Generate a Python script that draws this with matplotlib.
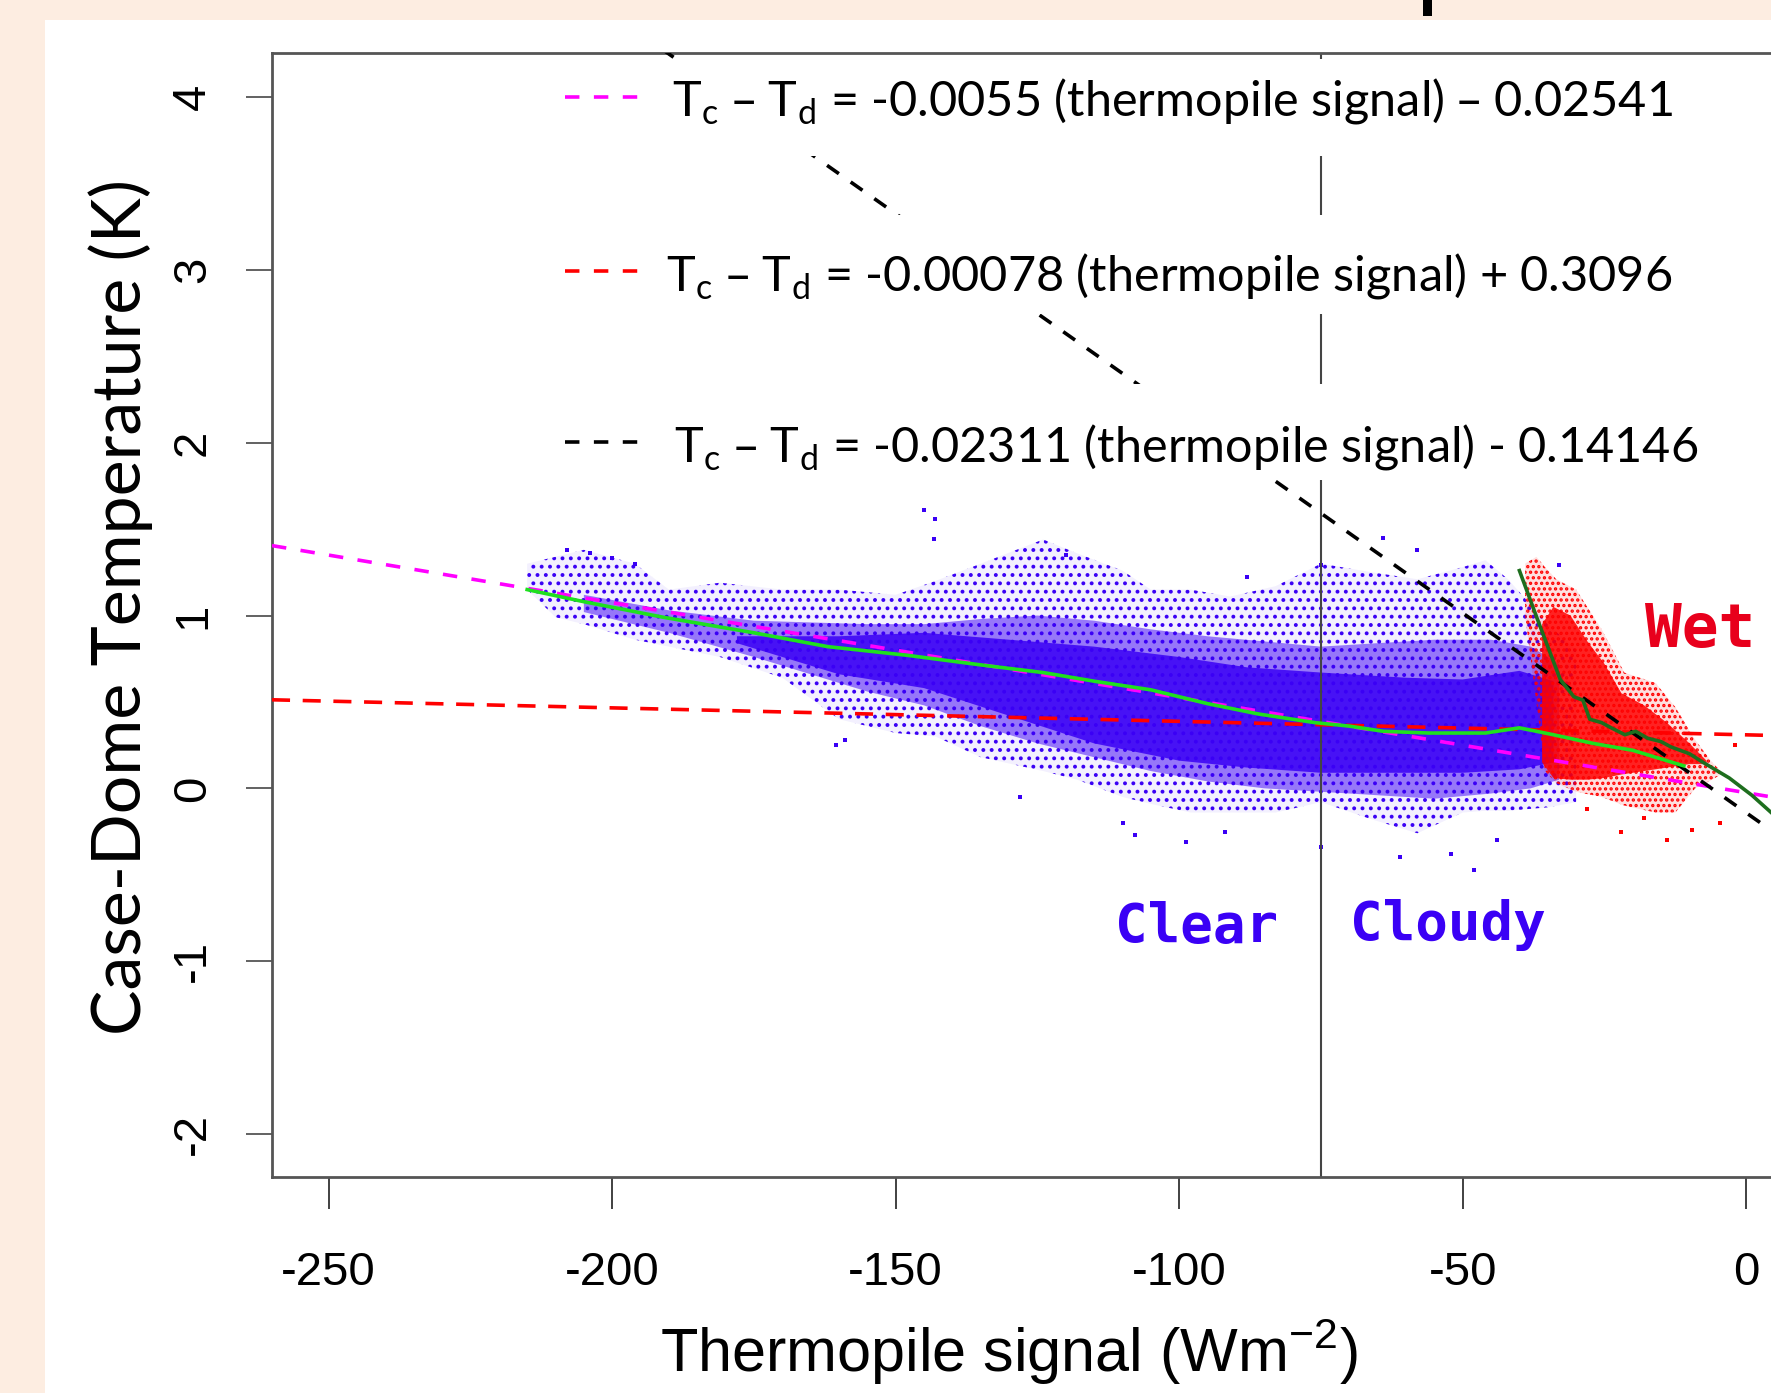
import matplotlib.pyplot as plt
from matplotlib.patches import Rectangle
import numpy as np

plt.rcParams['axes.unicode_minus'] = False
plt.rcParams['hatch.linewidth'] = 1.6

# Fitted lines: slope, intercept (from the chart's own equations)
fit_magenta = (-0.0055, -0.02541)
fit_red = (-0.00078, 0.3096)
fit_black = (-0.02311, -0.14146)
split_x = -75

# Blue (clear/cloudy) cloud, read as envelopes
blue_out_x = [-215, -210, -205, -196, -190, -181, -170, -160, -150, -143, -135, -124, -118,
              -110, -105, -98, -91, -83, -75, -66, -58, -50, -46, -42, -35, -30]
blue_out_hi = [1.30, 1.34, 1.38, 1.30, 1.15, 1.19, 1.15, 1.15, 1.12, 1.20, 1.30, 1.44, 1.36,
               1.26, 1.15, 1.15, 1.11, 1.17, 1.30, 1.25, 1.21, 1.28, 1.32, 1.21, 0.95, 0.80]
blue_out_lo = [1.15, 0.99, 0.95, 0.86, 0.82, 0.76, 0.64, 0.40, 0.32, 0.30, 0.18, 0.10, 0.05,
               -0.05, -0.09, -0.14, -0.14, -0.14, -0.08, -0.18, -0.26, -0.14, -0.13, -0.13, -0.11, -0.08]

blue_mid_x = [-205, -190, -175, -165, -155, -145, -135, -125, -115, -105, -95, -85, -75,
              -65, -55, -45, -38, -33]
blue_mid_hi = [1.12, 1.03, 0.97, 0.96, 0.95, 0.95, 0.98, 1.00, 0.97, 0.92, 0.88, 0.85, 0.82,
               0.84, 0.86, 0.86, 0.82, 0.72]
blue_mid_lo = [1.02, 0.90, 0.76, 0.66, 0.56, 0.48, 0.36, 0.26, 0.18, 0.10, 0.04, 0.00, -0.02,
               -0.04, -0.06, -0.03, 0.00, 0.05]

blue_core_x = [-178, -168, -160, -145, -130, -115, -100, -88, -75, -60, -50, -40, -34]
blue_core_hi = [0.88, 0.88, 0.88, 0.90, 0.86, 0.82, 0.76, 0.70, 0.67, 0.64, 0.63, 0.68, 0.62]
blue_core_lo = [0.84, 0.74, 0.66, 0.58, 0.42, 0.26, 0.16, 0.12, 0.09, 0.09, 0.09, 0.11, 0.15]

blue_pts_x = [-145, -143, -143.2, -208, -204, -200, -196, -160.6, -159, -107.8, -98.8, -75,
              -61, -48, -33, -75, -64, -58, -88, -120, -128, -52, -44, -110, -92]
blue_pts_y = [1.61, 1.56, 1.44, 1.38, 1.36, 1.33, 1.30, 0.25, 0.28, -0.27, -0.31, -0.34,
              -0.40, -0.47, 1.29, 1.29, 1.45, 1.38, 1.22, 1.35, -0.05, -0.38, -0.30, -0.20, -0.25]

# Red (wet) cloud
red_out_x = [-39, -37, -35.5, -33.5, -30, -25.5, -21.5, -16, -12.5, -9, -6, -4.5]
red_out_hi = [1.30, 1.34, 1.28, 1.21, 1.15, 0.92, 0.67, 0.61, 0.47, 0.28, 0.15, 0.10]
red_out_lo = [1.00, 0.50, 0.10, 0.03, -0.02, -0.05, -0.10, -0.14, -0.14, 0.00, 0.05, 0.08]

red_core_x = [-36, -34, -31, -28, -25, -22, -18, -14, -10, -7]
red_core_hi = [0.95, 1.05, 1.00, 0.85, 0.72, 0.55, 0.48, 0.38, 0.26, 0.16]
red_core_lo = [0.15, 0.06, 0.05, 0.05, 0.06, 0.08, 0.10, 0.12, 0.14, 0.14]

red_pts_x = [-18, -9.6, -4.6, -22, -14, -28, -2]
red_pts_y = [-0.17, -0.24, -0.20, -0.25, -0.30, -0.12, 0.25]

# Smoothed curves
green_x = [-215, -205, -191, -175, -162, -148, -134, -124, -115, -105, -95, -86, -76, -70,
           -64, -56, -46, -40, -34, -27, -20, -15, -11]
green_y = [1.15, 1.08, 0.99, 0.90, 0.82, 0.77, 0.71, 0.67, 0.62, 0.57, 0.49, 0.43, 0.38, 0.36,
           0.33, 0.32, 0.32, 0.35, 0.31, 0.26, 0.22, 0.17, 0.13]
dkgreen_x = [-40, -36.5, -32.8, -30.4, -28.8, -27.6, -25.5, -23.8, -21.4, -19.5, -17.4, -15,
             -13.3, -10, -7.6, -3, 1, 4.4]
dkgreen_y = [1.26, 0.95, 0.63, 0.53, 0.51, 0.40, 0.38, 0.35, 0.31, 0.33, 0.29, 0.27,
             0.24, 0.20, 0.15, 0.06, -0.04, -0.14]

legend_texts = [
    r'T$_\mathregular{c}$ – T$_\mathregular{d}$ = -0.0055 (thermopile signal) – 0.02541',
    r'T$_\mathregular{c}$ – T$_\mathregular{d}$ = -0.00078 (thermopile signal) + 0.3096',
    r'T$_\mathregular{c}$ – T$_\mathregular{d}$ = -0.02311 (thermopile signal) - 0.14146',
]

BLUE = '#3a00f5'
PEACH = '#fdede1'
xlim = (-260, 4.37)
ylim = (-2.249, 4.255)

fig = plt.figure(figsize=(17.71, 13.93), dpi=100, facecolor=PEACH)
fig.add_artist(Rectangle((45 / 1771, 0), 1, 1 - 20 / 1393, transform=fig.transFigure,
                         facecolor='white', edgecolor='none', zorder=-10))
fig.add_artist(Rectangle((1423 / 1771, 1 - 16 / 1393), 9 / 1771, 16 / 1393,
                         transform=fig.transFigure, facecolor='black', edgecolor='none',
                         zorder=-9))

ax = fig.add_axes([272 / 1771, 1 - 1177 / 1393, 1 - 272 / 1771, 1124 / 1393])
ax.set_xlim(*xlim)
ax.set_ylim(*ylim)

# scatter clouds (sparse fringe dotted, denser band and core filled)
ax.fill_between(blue_out_x, blue_out_lo, blue_out_hi, facecolor=BLUE, alpha=0.06, lw=0, zorder=1)
ax.fill_between(blue_out_x, blue_out_lo, blue_out_hi, facecolor='none', edgecolor=BLUE,
                hatch='..', lw=0, zorder=1)
ax.fill_between(blue_mid_x, blue_mid_lo, blue_mid_hi, facecolor=BLUE, alpha=0.5, lw=0, zorder=1)
ax.fill_between(blue_core_x, blue_core_lo, blue_core_hi, facecolor=BLUE, alpha=0.85, lw=0, zorder=1)
ax.plot(blue_pts_x, blue_pts_y, 's', ms=2.2, color=BLUE, mew=0, zorder=1)

ax.fill_between(red_out_x, red_out_lo, red_out_hi, facecolor='red', alpha=0.12, lw=0, zorder=2)
ax.fill_between(red_out_x, red_out_lo, red_out_hi, facecolor='none', edgecolor='red',
                hatch='...', lw=0, zorder=2)
ax.fill_between(red_core_x, red_core_lo, red_core_hi, facecolor='red', alpha=0.85, lw=0, zorder=2)
ax.plot(red_pts_x, red_pts_y, 's', ms=2.2, color='red', mew=0, zorder=2)

# split line and fits
ax.axvline(split_x, color='#444444', lw=1.5, zorder=2.5)
xs = np.array(xlim)
ax.plot(xs, fit_magenta[0] * xs + fit_magenta[1], color='#ff00ff', lw=2.6, ls=(0, (4, 4)), zorder=3)
ax.plot(xs, fit_red[0] * xs + fit_red[1], color='red', lw=2.6, ls=(0, (5, 3.5)), zorder=3)
ax.plot(xs, fit_black[0] * xs + fit_black[1], color='black', lw=2.6, ls=(0, (4, 4)), zorder=3)
ax.plot(green_x, green_y, color='#1fe01f', lw=2.6, zorder=3.2)
ax.plot(dkgreen_x, dkgreen_y, color='#1e6e1e', lw=2.6, zorder=3.2)

# legend blocks with white backgrounds
boxes = [(0.908, 0.995), (0.768, 0.856), (0.620, 0.7055)]
sample_y = [0.9609, 0.806, 0.654]
text_x = [0.2668, 0.2628, 0.2682]
text_base = [0.944, 0.789, 0.637]
colors = ['#ff00ff', 'red', 'black']
for (b0, b1), sy, tx, tb, c, t in zip(boxes, sample_y, text_x, text_base, colors, legend_texts):
    ax.add_patch(Rectangle((0.18, b0), 0.82, b1 - b0, transform=ax.transAxes,
                           facecolor='white', edgecolor='none', zorder=4))
    ax.plot([0.1955, 0.2442], [sy, sy], transform=ax.transAxes, color=c, lw=2.6,
            ls=(0, (4, 4)), zorder=5)
    ax.text(tx, tb, t, transform=ax.transAxes, fontsize=35, family='Lato',
            va='baseline', ha='left', zorder=5)

# region labels
ax.text(-96.9, -0.80, 'Clear', color=BLUE, fontsize=39, family='DejaVu Sans Mono',
        weight='bold', ha='center', va='center', zorder=5)
ax.text(-52.6, -0.79, 'Cloudy', color=BLUE, fontsize=39, family='DejaVu Sans Mono',
        weight='bold', ha='center', va='center', zorder=5)
ax.text(-8.1, 0.916, 'Wet', color='#e8001c', fontsize=44, family='DejaVu Sans Mono',
        weight='bold', ha='center', va='center', zorder=5)

# axes styling (R look)
ax.spines['right'].set_visible(False)
for s in ['left', 'top', 'bottom']:
    ax.spines[s].set_color('#555555')
    ax.spines[s].set_linewidth(2)
ax.set_xticks([-250, -200, -150, -100, -50, 0])
ax.set_yticks([-2, -1, 0, 1, 2, 3, 4])
ax.tick_params(axis='x', length=23, width=1.3, color='#333333', pad=30, labelsize=34)
ax.tick_params(axis='y', length=19, width=1.3, color='#555555', pad=22, labelsize=34,
               labelrotation=90)
for lab in ax.get_xticklabels() + ax.get_yticklabels():
    lab.set_family('Liberation Sans')
for lab in ax.get_yticklabels():
    lab.set_va('center')

ax.set_ylabel('Case-Dome Temperature (K)', fontsize=49, family='Lato', va='center')
ax.yaxis.set_label_coords(-0.1007, 0.507)
ax.set_xlabel(r'Thermopile signal (Wm$^{\mathregular{-2}}$)', fontsize=44,
              family='Liberation Sans', va='center')
ax.xaxis.set_label_coords(0.4917, -0.1557)

plt.savefig('out.png', dpi=100, facecolor=PEACH)
